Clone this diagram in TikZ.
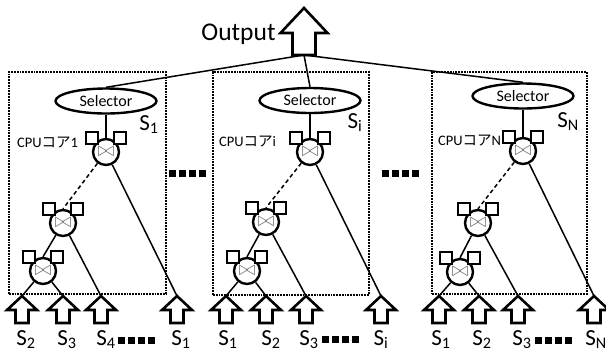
\documentclass[tikz,border=0pt]{standalone}
\usepackage{fontspec}
\setmainfont{Carlito}
\newfontfamily\cjk{Noto Sans CJK JP}
\usepackage{tikz}
\usetikzlibrary{calc,shapes.geometric}

\tikzset{
    joinop/.pic={
        \node[joincirc] (-c) at (0,0) {$\bowtie$};
        \node[joinsq] (-l) at (-14,-14) {};
        \node[joinsq] (-r) at (14,-14) {};
    },
    inarrow/.pic={
        \draw[hollow] (0,0) -- (15,14) -- (6.5,14) -- (6.5,27) -- (-6.5,27) -- (-6.5,14) -- (-15,14) -- cycle;
        \coordinate (-tip) at (0,0);
    },
    outarrow/.pic={
        \draw[hollow] (0,0) -- (23.5,25) -- (11.5,25) -- (11.5,47) -- (-11.5,47) -- (-11.5,25) -- (-23.5,25) -- cycle;
        \coordinate (-base) at (0,47);
    },
    dotrow/.pic={
        \foreach \k in {0,...,3}
            \fill (\k*10,0) rectangle +(6.5,6.5);
    }
}

\begin{document}
\begin{tikzpicture}[
    x=1pt, y=-1pt,
    corebox/.style={draw, line width=2.8pt, dash pattern=on 1.8pt off 1pt, inner sep=0pt},
    selector/.style={draw, ellipse, line width=2.4pt, minimum width=101pt, minimum height=25pt, inner sep=0pt, fill=white, font=\fontsize{16}{16}\selectfont},
    joincirc/.style={draw, circle, line width=2.4pt, minimum size=26pt, inner sep=0pt, fill=white, text=black!55, font=\fontsize{20}{20}\selectfont},
    joinsq/.style={draw, rectangle, line width=2.4pt, minimum size=12.5pt, inner sep=0pt, fill=white},
    hollow/.style={draw, line width=2.6pt, fill=white, line join=miter},
    link/.style={line width=1.5pt},
    dlink/.style={line width=1.5pt, dash pattern=on 4pt off 3pt},
    slabel/.style={anchor=base, inner sep=0pt, font=\fontsize{23}{23}\selectfont},
    cpulabel/.style={anchor=west, inner sep=0pt, font=\fontsize{14.5}{14.5}\selectfont}
]
    \useasboundingbox (0,0) rectangle (606,354);

    % CPU core boxes
    \node[corebox, minimum width=157pt, minimum height=222pt] (core1) at (87.5,183) {};
    \node[corebox, minimum width=156pt, minimum height=223pt] (corei) at (291,183.5) {};
    \node[corebox, minimum width=155pt, minimum height=222pt] (coreN) at (509.5,183) {};

    % Output
    \pic (out) at (304,8) {outarrow};
    \node[anchor=base, inner sep=0pt, font=\fontsize{25.5}{25.5}\selectfont] (outtxt) at (238.5,40) {Output};

    % Selectors
    \node[selector] (sel1) at (106,101) {Selector};
    \node[selector] (seli) at (310,100.5) {Selector};
    \node[selector] (selN) at (523,96) {Selector};

    \node[slabel] (s1) at (149,130) {S\textsubscript{1}};
    \node[slabel] (si) at (355,128) {S\textsubscript{i}};
    \node[slabel] (sN) at (568,127) {S\textsubscript{N}};

    \node[cpulabel] (cpu1) at (17,143) {CPU{\cjk コア}1};
    \node[cpulabel] (cpui) at (219,142) {CPU{\cjk コア}i};
    \node[cpulabel] (cpuN) at (438,141) {CPU{\cjk コア}N};

    % Join operators
    \pic (a1) at (106,152) {joinop};
    \pic (a2) at (63,223) {joinop};
    \pic (a3) at (43,271) {joinop};
    \pic (b1) at (310,152) {joinop};
    \pic (b2) at (266,222) {joinop};
    \pic (b3) at (247,271) {joinop};
    \pic (c1) at (523,151) {joinop};
    \pic (c2) at (478,223) {joinop};
    \pic (c3) at (460,272) {joinop};

    % Inputs
    \pic (ina1) at (22,296) {inarrow};
    \pic (ina2) at (63,296) {inarrow};
    \pic (ina3) at (101,296) {inarrow};
    \pic (ina4) at (177,296) {inarrow};
    \pic (inb1) at (226,296) {inarrow};
    \pic (inb2) at (266,296) {inarrow};
    \pic (inb3) at (306,296) {inarrow};
    \pic (inb4) at (381,296) {inarrow};
    \pic (inc1) at (439,296) {inarrow};
    \pic (inc2) at (479,296) {inarrow};
    \pic (inc3) at (518,296) {inarrow};
    \pic (inc4) at (594,296) {inarrow};

    \node[slabel] (la1) at (26,345) {S\textsubscript{2}};
    \node[slabel] (la2) at (67,345) {S\textsubscript{3}};
    \node[slabel] (la3) at (106,345) {S\textsubscript{4}};
    \node[slabel] (la4) at (181,345) {S\textsubscript{1}};
    \node[slabel] (lb1) at (228,345) {S\textsubscript{1}};
    \node[slabel] (lb2) at (271,345) {S\textsubscript{2}};
    \node[slabel] (lb3) at (309,345) {S\textsubscript{3}};
    \node[slabel] (lb4) at (381,345) {S\textsubscript{i}};
    \node[slabel] (lc1) at (441,345) {S\textsubscript{1}};
    \node[slabel] (lc2) at (482,345) {S\textsubscript{2}};
    \node[slabel] (lc3) at (522,345) {S\textsubscript{3}};
    \node[slabel] (lc4) at (596,345) {S\textsubscript{N}};

    % Ellipsis marks
    \pic at (169,170) {dotrow};
    \pic at (382,170) {dotrow};
    \pic at (118,337) {dotrow};
    \pic at (322,336) {dotrow};
    \pic at (535,337) {dotrow};

    % Links
    \draw[link] (out-base) -- (sel1.north);
    \draw[link] (out-base) -- (seli.north);
    \draw[link] (out-base) -- (selN.north);

    \draw[link] (sel1) -- (a1-c);
    \draw[dlink] (a1-c) -- (a2-c.north);
    \draw[link] (a1-c) -- (ina4-tip);
    \draw[link] (a2-c) -- (a3-c.north);
    \draw[link] (a2-c) -- (ina3-tip);
    \draw[link] (a3-c) -- (ina1-tip);
    \draw[link] (a3-c) -- (ina2-tip);

    \draw[link] (seli) -- (b1-c);
    \draw[dlink] (b1-c) -- (b2-c.north);
    \draw[link] (b1-c) -- (inb4-tip);
    \draw[link] (b2-c) -- (b3-c.north);
    \draw[link] (b2-c) -- (inb3-tip);
    \draw[link] (b3-c) -- (inb1-tip);
    \draw[link] (b3-c) -- (inb2-tip);

    \draw[link] (selN) -- (c1-c);
    \draw[dlink] (c1-c) -- (c2-c.north);
    \draw[link] (c1-c) -- (inc4-tip);
    \draw[link] (c2-c) -- (c3-c.north);
    \draw[link] (c2-c) -- (inc3-tip);
    \draw[link] (c3-c) -- (inc1-tip);
    \draw[link] (c3-c) -- (inc2-tip);

\end{tikzpicture}
\end{document}
